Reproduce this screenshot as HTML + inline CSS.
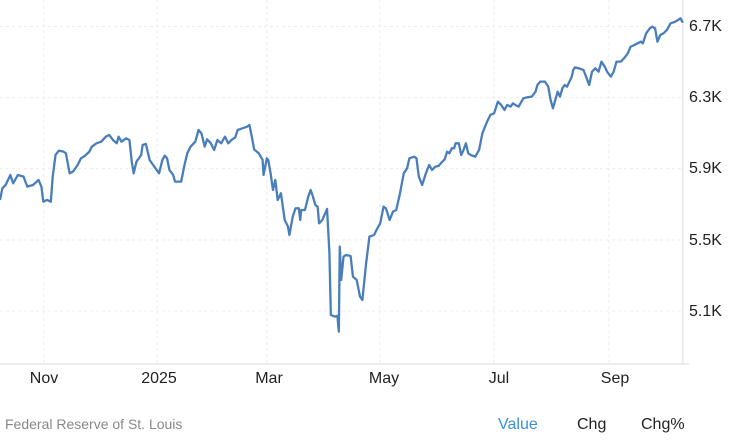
<!DOCTYPE html>
<html><head><meta charset="utf-8"><style>
html,body{margin:0;padding:0;background:#fff;}
body{width:744px;height:435px;overflow:hidden;font-family:"Liberation Sans",sans-serif;}
</style></head><body>
<svg width="744" height="435" viewBox="0 0 744 435" xmlns="http://www.w3.org/2000/svg">
<g transform="scale(0.4706,0.3333)">
<g stroke="#ececec" stroke-width="1" stroke-dasharray="3,3">
<line x1="0" y1="80" x2="1451" y2="80" vector-effect="non-scaling-stroke"/>
<line x1="0" y1="293" x2="1451" y2="293" vector-effect="non-scaling-stroke"/>
<line x1="0" y1="506" x2="1451" y2="506" vector-effect="non-scaling-stroke"/>
<line x1="0" y1="720" x2="1451" y2="720" vector-effect="non-scaling-stroke"/>
<line x1="0" y1="933" x2="1451" y2="933" vector-effect="non-scaling-stroke"/>
<line x1="93" y1="0" x2="93" y2="1092" vector-effect="non-scaling-stroke"/>
<line x1="334" y1="0" x2="334" y2="1092" vector-effect="non-scaling-stroke"/>
<line x1="567" y1="0" x2="567" y2="1092" vector-effect="non-scaling-stroke"/>
<line x1="807" y1="0" x2="807" y2="1092" vector-effect="non-scaling-stroke"/>
<line x1="1050" y1="0" x2="1050" y2="1092" vector-effect="non-scaling-stroke"/>
<line x1="1294" y1="0" x2="1294" y2="1092" vector-effect="non-scaling-stroke"/>
</g>
<line x1="1451" y1="0" x2="1451" y2="1092" stroke="#dcdcdc" stroke-width="1" vector-effect="non-scaling-stroke"/>
<line x1="0" y1="1092" x2="1465" y2="1092" stroke="#dcdcdc" stroke-width="1" vector-effect="non-scaling-stroke"/>
<polyline fill="none" stroke="#4a7ebb" stroke-width="2.3" stroke-linejoin="round" vector-effect="non-scaling-stroke" points="0,600 5,565 12,555 22,525 28,550 38,525 50,530 58,560 70,555 82,540 88,560 92,605 100,600 108,605 112,530 118,465 125,452 135,455 140,460 148,520 155,515 165,495 172,475 180,468 190,455 195,440 205,430 215,425 225,410 232,405 240,420 248,430 252,410 258,425 268,415 275,420 280,485 284,520 290,485 300,465 303,435 310,432 318,480 328,500 338,520 345,480 350,467 355,475 360,510 368,525 372,545 385,545 392,495 398,460 405,440 415,425 422,390 428,400 435,440 440,418 448,430 455,450 462,420 470,430 478,410 485,430 492,420 500,412 505,390 515,385 525,380 530,375 535,410 540,448 550,460 558,480 560,525 567,475 570,480 575,520 580,570 585,540 590,600 597,580 605,660 612,680 615,705 622,650 628,625 635,625 638,660 640,630 648,630 655,590 660,570 665,590 670,615 675,620 678,670 685,660 695,627 700,760 703,945 712,950 717,948 720,995 722,740 725,840 730,770 735,765 745,768 750,830 758,840 765,890 770,900 778,790 785,710 795,705 800,690 808,670 815,620 820,625 828,660 835,635 842,630 850,580 858,520 865,505 870,475 880,470 885,475 890,530 897,555 905,520 912,495 918,510 925,500 932,498 938,488 945,478 950,455 955,460 960,445 965,445 968,430 975,430 980,465 985,450 990,430 995,460 1000,465 1010,470 1018,450 1025,400 1035,365 1042,345 1050,340 1058,305 1065,315 1072,330 1078,315 1085,320 1090,310 1095,315 1102,320 1108,305 1112,295 1120,292 1130,290 1138,275 1142,255 1148,245 1158,245 1165,260 1170,300 1175,325 1180,300 1185,275 1190,290 1195,265 1200,255 1205,260 1210,245 1215,230 1218,210 1222,202 1230,205 1240,210 1248,240 1252,255 1258,215 1265,205 1272,215 1278,185 1285,200 1290,215 1298,230 1304,215 1310,185 1319,185 1326,175 1334,160 1340,140 1348,135 1355,130 1362,125 1366,130 1373,100 1381,85 1386,80 1392,85 1397,125 1403,105 1410,100 1417,90 1425,70 1435,65 1441,60 1446,55 1451,68"/>
</g>
<g font-size="16" fill="#222" font-family="Liberation Sans, sans-serif">
<text x="689" y="31">6.7K</text>
<text x="689" y="102">6.3K</text>
<text x="689" y="173">5.9K</text>
<text x="689" y="245">5.5K</text>
<text x="689" y="316">5.1K</text>
<g text-anchor="middle">
<text x="44" y="383">Nov</text>
<text x="159" y="383">2025</text>
<text x="269" y="383">Mar</text>
<text x="384" y="383">May</text>
<text x="499" y="383">Jul</text>
<text x="615" y="383">Sep</text>
</g>
<text x="5" y="429" font-size="14" fill="#888">Federal Reserve of St. Louis</text>
<text x="498" y="429" fill="#3a8fd9">Value</text>
<text x="577" y="429">Chg</text>
<text x="641" y="429">Chg%</text>
</g>
</svg>
</body></html>
